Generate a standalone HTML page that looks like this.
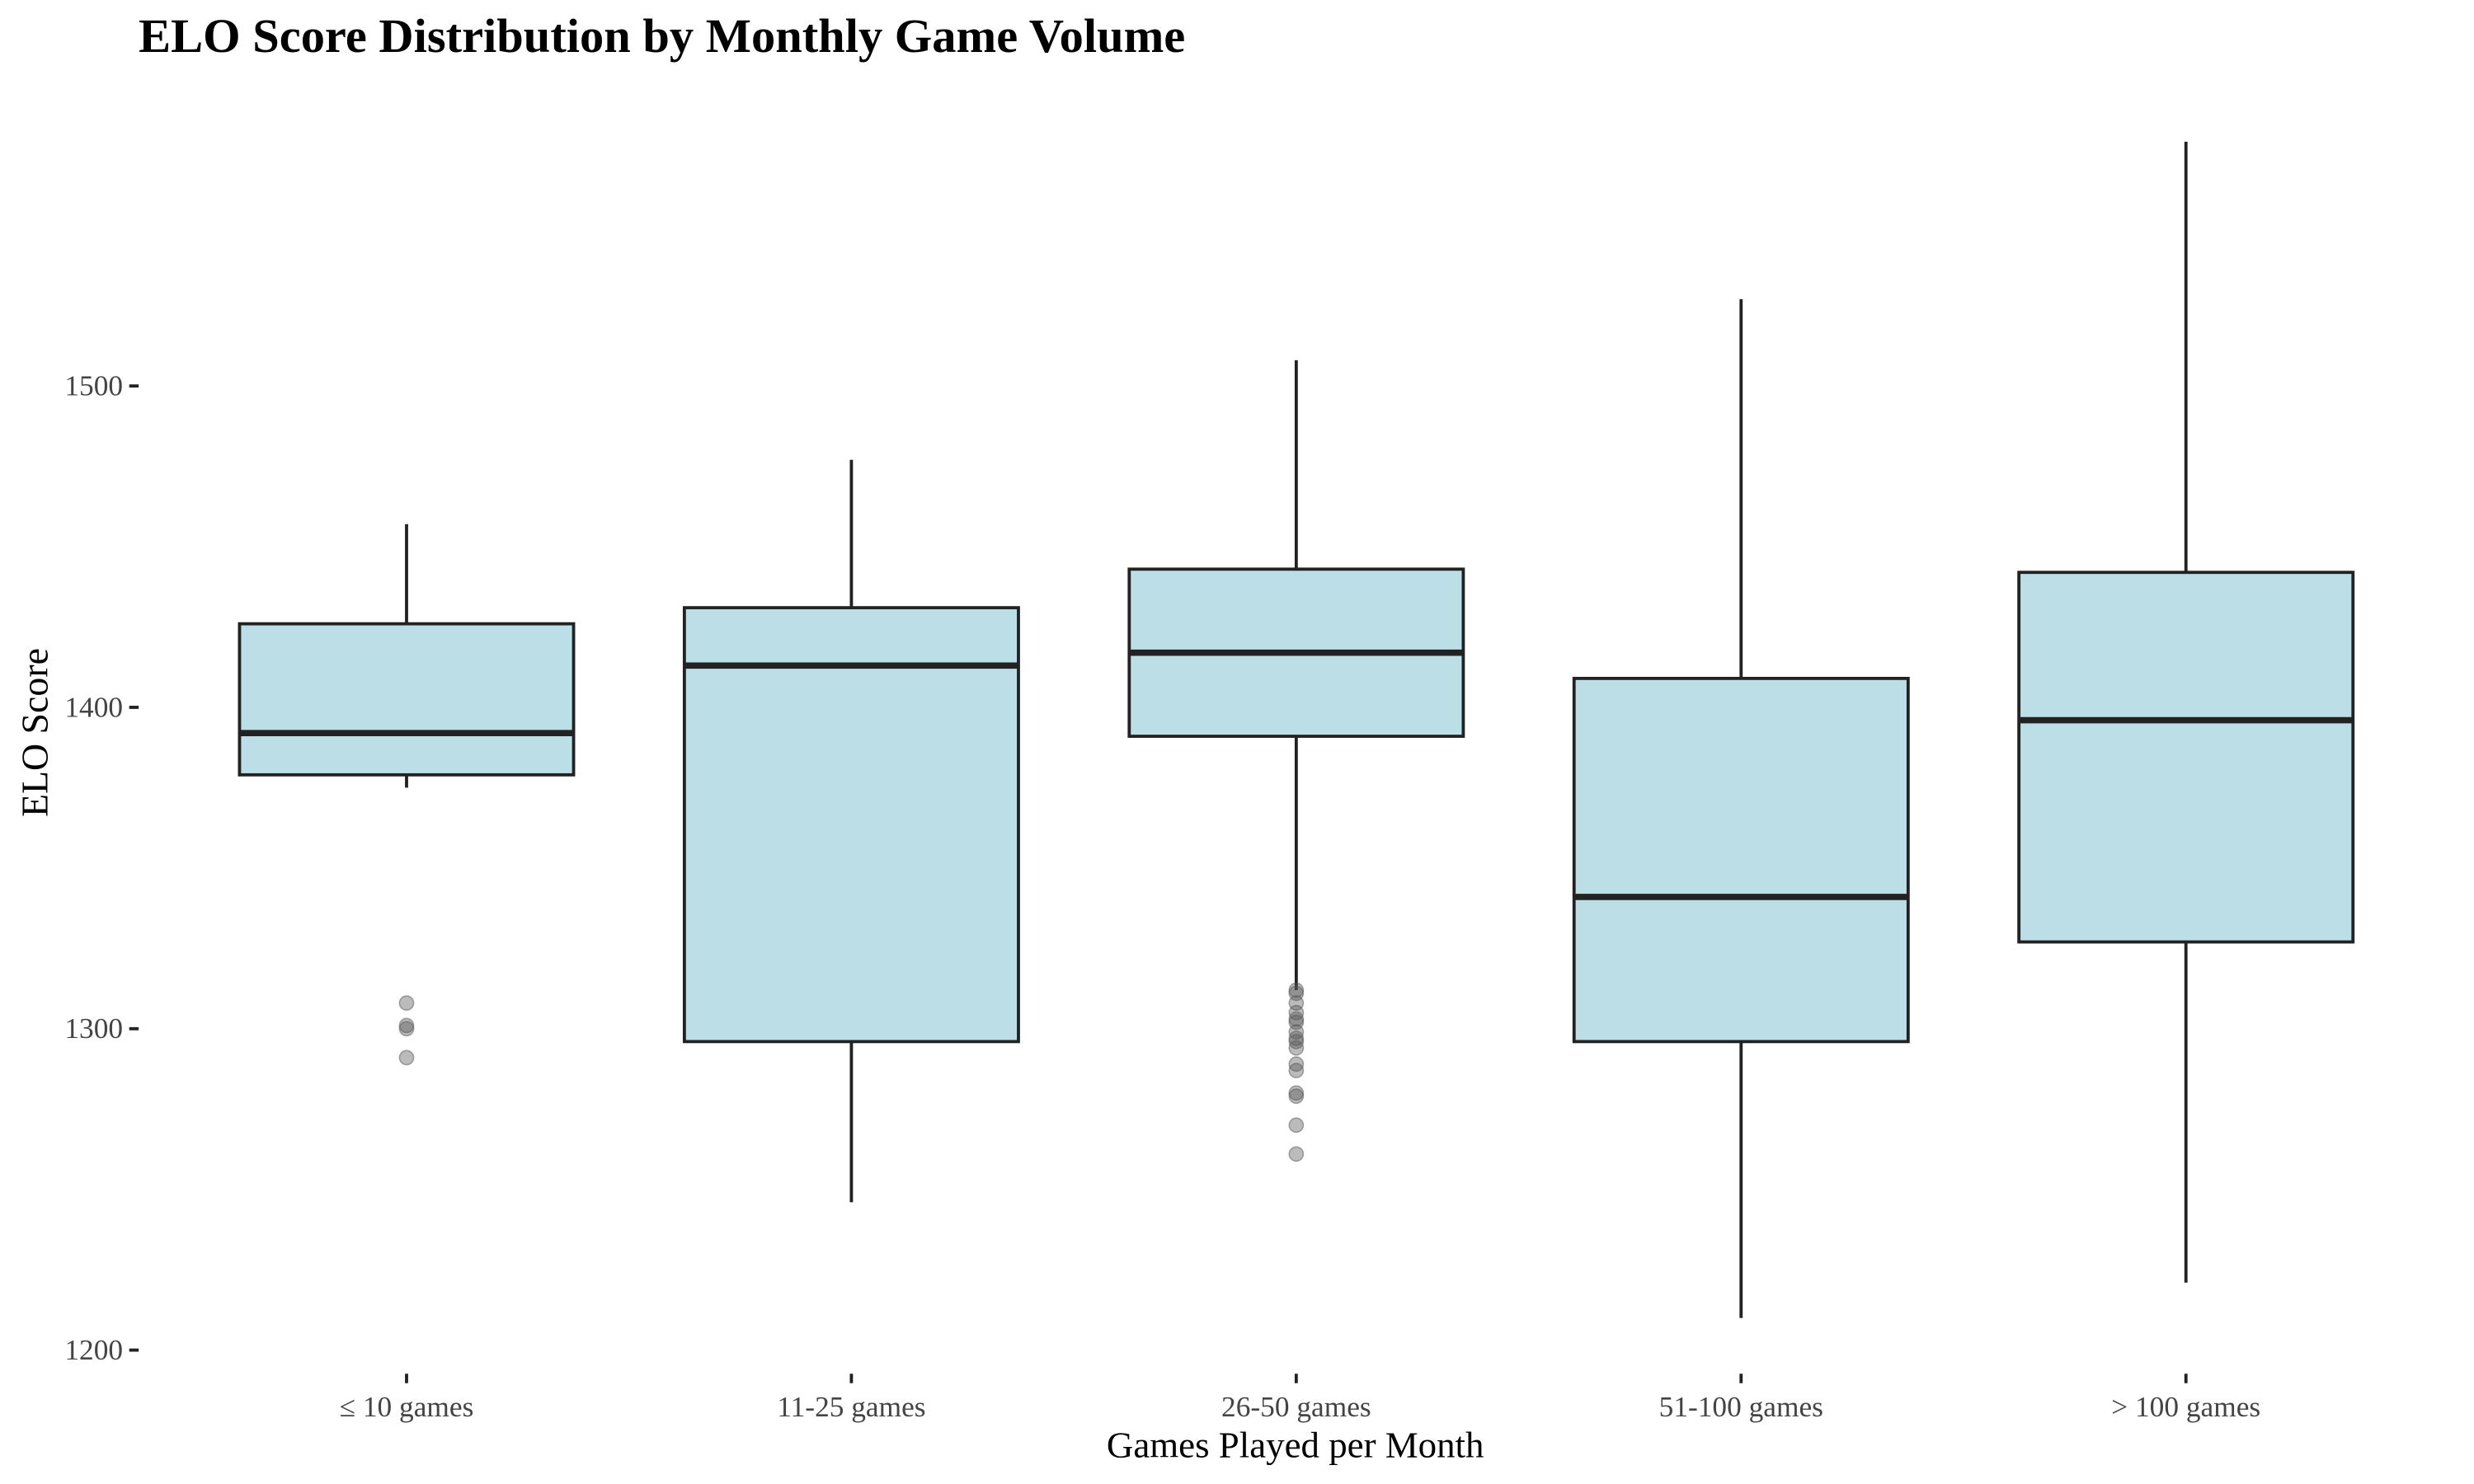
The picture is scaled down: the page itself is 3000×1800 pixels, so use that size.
<!DOCTYPE html>
<html><head><meta charset="utf-8"><style>html,body{margin:0;padding:0;background:#fff}svg{display:block}</style></head>
<body>
<svg id="chart" width="3000" height="1800" viewBox="0 0 1570 942" xmlns="http://www.w3.org/2000/svg" font-family="'Liberation Serif', serif">
<text x="88" y="33" font-size="30.6" font-weight="bold" fill="#000">ELO Score Distribution by Monthly Game Volume</text>
<text transform="translate(30,465) rotate(-90)" text-anchor="middle" font-size="24" fill="#000">ELO Score</text>
<text x="822" y="925" text-anchor="middle" font-size="23.5" fill="#000">Games Played per Month</text>
<g id="yaxis"></g>
<g id="xaxis"></g>
<g id="boxes"></g>
</svg>
<script>
const categories = ["≤ 10 games","11-25 games","26-50 games","51-100 games","> 100 games"];
const whiskerHigh = [1457,1477,1508,1527,1576];
const q3 = [1426,1431,1443,1409,1442];
const median = [1392,1413,1417,1341,1396];
const q1 = [1379,1296,1391,1296,1327];
const whiskerLow = [1375,1246,1312,1210,1221];
const outliers = [[1308,1301,1300,1291],[],[1312,1311,1308,1305,1303,1302,1299,1297,1296,1294,1289,1287,1280,1279,1270,1261],[],[]];
const yTicks = [1200,1300,1400,1500];

const NS="http://www.w3.org/2000/svg";
function y(v){return 449-(v-1400)*2.04;}
function x(i){return 258+i*282.3;}
function mk(tag,attrs,parent){const e=document.createElementNS(NS,tag);for(const k in attrs)e.setAttribute(k,attrs[k]);parent.appendChild(e);return e;}
const ya=document.getElementById('yaxis'),xa=document.getElementById('xaxis'),bx=document.getElementById('boxes');
yTicks.forEach(t=>{
  const l=mk('line',{x1:82,x2:88,y1:y(t),y2:y(t),stroke:'#222','stroke-width':2},ya);
  
  
  const tx=mk('text',{x:78,y:y(t)+6,'text-anchor':'end','font-size':18.5,fill:'#444'},ya);
  tx.textContent=t;
  
  
});
categories.forEach((c,i)=>{
  const cx=x(i);
  const l=mk('line',{x1:cx,x2:cx,y1:872,y2:878,stroke:'#222','stroke-width':2},xa);
  
  
  const tx=mk('text',{x:cx,y:899,'text-anchor':'middle','font-size':18.5,fill:'#444'},xa);
  tx.textContent=c;
  
  
  const g=mk('g',{},bx);
  
  
  const w1=mk('line',{x1:cx,x2:cx,y1:y(whiskerHigh[i]),y2:y(q3[i]),stroke:'#222','stroke-width':2},g);
  
  
  const w2=mk('line',{x1:cx,x2:cx,y1:y(q1[i]),y2:y(whiskerLow[i]),stroke:'#222','stroke-width':2},g);
  
  
  const r=mk('rect',{x:cx-106,y:y(q3[i]),width:212,height:y(q1[i])-y(q3[i]),fill:'#bcdfe7',stroke:'#222','stroke-width':2},g);
  
  
  const m=mk('line',{x1:cx-106,x2:cx+106,y1:y(median[i]),y2:y(median[i]),stroke:'#222','stroke-width':4},g);
  
  
  outliers[i].forEach(o=>{
    const p=mk('circle',{cx:cx,cy:y(o),r:4.5,fill:'#555','fill-opacity':0.4,stroke:'#555','stroke-opacity':0.5,'stroke-width':0.8},g);
    
    
  });
});
</script>
</body></html>
